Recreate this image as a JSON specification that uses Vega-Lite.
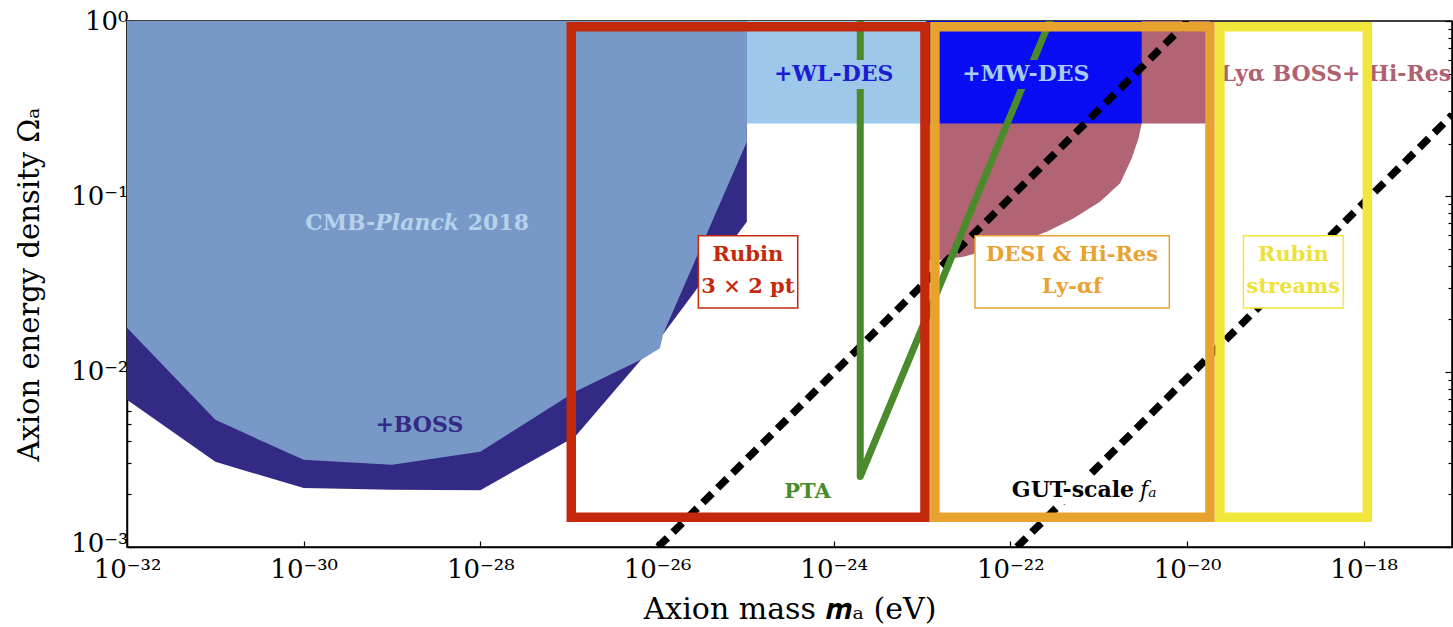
{
  "$schema": "https://vega.github.io/schema/vega-lite/v6.json",
  "width": 1325,
  "height": 526,
  "autosize": {"type": "none"},
  "padding": {"left": 127, "top": 21, "right": 1, "bottom": 80},
  "background": "white",
  "datasets": {
    "boss": [
      {"m": 1e-32, "o": 0.00692},
      {"m": 1e-31, "o": 0.00306},
      {"m": 1e-30, "o": 0.00217},
      {"m": 1e-29, "o": 0.00212},
      {"m": 1e-28, "o": 0.00211},
      {"m": 1.18e-27, "o": 0.00426},
      {"m": 1.2e-26, "o": 0.0166},
      {"m": 1.04e-25, "o": 0.0716}
    ],
    "cmb": [
      {"m": 1e-32, "o": 0.0178},
      {"m": 1e-31, "o": 0.00531},
      {"m": 1e-30, "o": 0.00314},
      {"m": 1e-29, "o": 0.00295},
      {"m": 1e-28, "o": 0.00349},
      {"m": 1.18e-27, "o": 0.00767},
      {"m": 7.0e-27, "o": 0.0119},
      {"m": 1.08e-26, "o": 0.0136},
      {"m": 1.18e-26, "o": 0.0165},
      {"m": 1.04e-25, "o": 0.205}
    ],
    "lya": [
      {"m": 1.12e-23, "o": 0.0433},
      {"m": 1.6e-23, "o": 0.0434},
      {"m": 2.95e-23, "o": 0.0452},
      {"m": 6.46e-23, "o": 0.0505},
      {"m": 1.29e-22, "o": 0.0551},
      {"m": 2.58e-22, "o": 0.0628},
      {"m": 5.16e-22, "o": 0.0748},
      {"m": 1.035e-21, "o": 0.0931},
      {"m": 1.75e-21, "o": 0.1186},
      {"m": 2.37e-21, "o": 0.165},
      {"m": 2.82e-21, "o": 0.214},
      {"m": 3.07e-21, "o": 0.26},
      {"m": 1.82e-20, "o": 0.26}
    ],
    "regions": [
      {"name": "WL-DES", "m": 1.04e-25, "m2": 1.12e-23, "o": 0.26, "o2": 1},
      {"name": "MW-DES", "m": 1.12e-23, "m2": 3.07e-21, "o": 0.26, "o2": 1},
      {"name": "WL-DES", "m": 1.9e-25, "m2": 5.2e-24, "o": 0.41, "o2": 0.6},
      {"name": "MW-DES", "m": 2.9e-23, "m2": 7.8e-22, "o": 0.41, "o2": 0.6},
      {"name": "GUT", "m": 9.4e-23, "m2": 5.6e-21, "o": 0.00175, "o2": 0.00255}
    ],
    "boxes": [
      {"name": "Rubin 3x2", "m": 1.07e-27, "m2": 1.08e-23, "o": 0.00148, "o2": 0.927},
      {"name": "DESI", "m": 1.4e-23, "m2": 1.82e-20, "o": 0.00148, "o2": 0.927},
      {"name": "streams", "m": 2.36e-20, "m2": 1.1e-18, "o": 0.00148, "o2": 0.927}
    ],
    "labelboxes": [
      {"name": "Rubin 3x2", "m": 2.94e-26, "m2": 3.92e-25, "o": 0.0231, "o2": 0.0596},
      {"name": "DESI", "m": 3.98e-23, "m2": 6.31e-21, "o": 0.0231, "o2": 0.0596},
      {"name": "streams", "m": 4.35e-20, "m2": 5.89e-19, "o": 0.0231, "o2": 0.0596}
    ],
    "gut": [
      {"id": "gut1", "i": 0, "m": 1.03e-26, "o": 0.001},
      {"id": "gut1", "i": 1, "m": 1.035e-20, "o": 1},
      {"id": "gut2", "i": 0, "m": 1.19e-22, "o": 0.001},
      {"id": "gut2", "i": 1, "m": 1e-17, "o": 0.29}
    ],
    "pta": [
      {"i": 0, "m": 2e-24, "o": 1},
      {"i": 1, "m": 2e-24, "o": 0.00252},
      {"i": 2, "m": 2.8e-22, "o": 1}
    ],
    "texts": [
      {"t": "+BOSS", "m": 2.04e-29, "o": 0.00497},
      {"t": "CMB-", "m": 6.46e-30, "o": 0.0706},
      {"t": "Planck", "m": 6.46e-30, "o": 0.0706},
      {"t": "2018", "m": 7.2e-29, "o": 0.0706},
      {"t": "+WL-DES", "m": 1.0e-24, "o": 0.5},
      {"t": "+MW-DES", "m": 1.5e-22, "o": 0.5},
      {"t": "Lyα BOSS+ Hi-Res", "m": 4.84e-19, "o": 0.5},
      {"t": "PTA", "m": 5.06e-25, "o": 0.00205},
      {"t": "GUT-scale", "m": 1.04e-22, "o": 0.00212},
      {"t": "fₐ", "m": 2.94e-21, "o": 0.00212},
      {"t": "Rubin\n3 × 2 pt", "m": 1.07e-25, "o": 0.0464},
      {"t": "DESI & Hi-Res\nLy-αf", "m": 5.0e-22, "o": 0.0464},
      {"t": "Rubin\nstreams", "m": 1.6e-19, "o": 0.0464}
    ]
  },
  "encoding": {
    "x": {"field": "m", "type": "quantitative", "scale": {"type": "log", "domain": [1e-32, 1e-17], "nice": false},
      "axis": {"values": [1e-32, 1e-30, 1e-28, 1e-26, 1e-24, 1e-22, 1e-20, 1e-18], "tickSize": -6, "labelPadding": 15,
        "title": "Axion mass 𝒎ₐ (eV)", "titleFontSize": 30, "titlePadding": 12,
        "labelExpr": "['10⁻³²','10⁻³¹','10⁻³⁰','10⁻²⁹','10⁻²⁸','10⁻²⁷','10⁻²⁶','10⁻²⁵','10⁻²⁴','10⁻²³','10⁻²²','10⁻²¹','10⁻²⁰','10⁻¹⁹','10⁻¹⁸','10⁻¹⁷'][round(log(datum.value)/LN10)+32]"}},
    "y": {"field": "o", "type": "quantitative", "scale": {"type": "log", "domain": [0.001, 1], "nice": false}, "axis": null}
  },
  "layer": [
    {
      "data": {"name": "boss"},
      "mark": {"type": "area", "color": "#332a85"},
      "encoding": {
        "y": {"field": "o", "type": "quantitative", "scale": {"type": "log", "domain": [0.001, 1], "nice": false},
          "axis": {"values": [0.001,0.002,0.003,0.004,0.005,0.006,0.007,0.008,0.009,0.01,0.02,0.03,0.04,0.05,0.06,0.07,0.08,0.09,0.1,0.2,0.3,0.4,0.5,0.6,0.7,0.8,0.9,1],
            "tickSize": {"condition": {"test": "abs(log(datum.value)/LN10 - round(log(datum.value)/LN10)) < 0.001", "value": -7}, "value": -4},
            "labelOffset": {"condition": {"test": "datum.value < 0.0015", "value": -4}, "value": 0},
            "labelPadding": 6, "title": "Axion energy density Ωₐ", "titleFontSize": 29, "titlePadding": 26,
            "labelExpr": "abs(log(datum.value)/LN10 - round(log(datum.value)/LN10)) < 0.001 ? ['10⁻³','10⁻²','10⁻¹','10⁰'][round(log(datum.value)/LN10)+3] : ''"}},
        "y2": {"datum": 1}
      }
    },
    {
      "data": {"name": "cmb"},
      "mark": {"type": "area", "color": "#7899c7"},
      "encoding": {
        "y": {"field": "o", "type": "quantitative", "scale": {"type": "log", "domain": [0.001, 1], "nice": false},
          "axis": {"orient": "right", "values": [0.001,0.002,0.003,0.004,0.005,0.006,0.007,0.008,0.009,0.01,0.02,0.03,0.04,0.05,0.06,0.07,0.08,0.09,0.1,0.2,0.3,0.4,0.5,0.6,0.7,0.8,0.9,1],
            "tickSize": {"condition": {"test": "abs(log(datum.value)/LN10 - round(log(datum.value)/LN10)) < 0.001", "value": -7}, "value": -4},
            "labels": false, "title": null}},
        "y2": {"datum": 1}
      }
    },
    {
      "data": {"name": "lya"},
      "mark": {"type": "area", "color": "#b06474"},
      "encoding": {"y2": {"datum": 1}}
    },
    {
      "data": {"name": "regions"},
      "transform": [{"filter": "datum.o > 0.2"}],
      "mark": {"type": "rect"},
      "encoding": {
        "x2": {"field": "m2"},
        "y2": {"field": "o2"},
        "color": {"field": "name", "type": "nominal", "scale": {"domain": ["WL-DES", "MW-DES", "GUT"], "range": ["#9ec8ea", "#0a0cf5", "#ffffff"]}, "legend": null}
      }
    },
    {
      "data": {"name": "texts"},
      "transform": [{"filter": {"field": "t", "oneOf": ["CMB-"]}}],
      "mark": {"type": "text", "align": "right", "baseline": "middle", "font": "DejaVu Serif", "fontWeight": "bold", "fontSize": 22, "color": "#b4d2eb"},
      "encoding": {"text": {"field": "t"}}
    },
    {
      "data": {"name": "texts"},
      "transform": [{"filter": {"field": "t", "oneOf": ["Planck"]}}],
      "mark": {"type": "text", "align": "left", "baseline": "middle", "font": "DejaVu Serif", "fontWeight": "bold", "fontStyle": "italic", "fontSize": 22, "color": "#b4d2eb"},
      "encoding": {"text": {"field": "t"}}
    },
    {
      "data": {"name": "texts"},
      "transform": [{"filter": {"field": "t", "oneOf": ["2018"]}}],
      "mark": {"type": "text", "align": "left", "baseline": "middle", "font": "DejaVu Serif", "fontWeight": "bold", "fontSize": 22, "color": "#b4d2eb"},
      "encoding": {"text": {"field": "t"}}
    },
    {
      "data": {"name": "texts"},
      "transform": [{"filter": {"field": "t", "oneOf": ["+BOSS"]}}],
      "mark": {"type": "text", "align": "center", "baseline": "middle", "font": "DejaVu Serif", "fontWeight": "bold", "fontSize": 22, "color": "#332a85"},
      "encoding": {"text": {"field": "t"}}
    },
    {
      "data": {"name": "gut"},
      "mark": {"type": "line", "color": "#000000", "strokeWidth": 7.5, "strokeDash": [13, 8], "strokeCap": "butt", "clip": true},
      "encoding": {"detail": {"field": "id"}, "order": {"field": "i"}}
    },
    {
      "data": {"name": "pta"},
      "mark": {"type": "line", "color": "#4a8b2c", "strokeWidth": 7, "strokeJoin": "round", "strokeCap": "round", "clip": true},
      "encoding": {"order": {"field": "i"}}
    },
    {
      "data": {"name": "regions"},
      "transform": [{"filter": "datum.o2 < 0.9"}],
      "mark": {"type": "rect"},
      "encoding": {
        "x2": {"field": "m2"},
        "y2": {"field": "o2"},
        "color": {"field": "name", "type": "nominal", "scale": {"domain": ["WL-DES", "MW-DES", "GUT"], "range": ["#9ec8ea", "#0a0cf5", "#ffffff"]}, "legend": null}
      }
    },
    {
      "data": {"name": "texts"},
      "transform": [{"filter": {"field": "t", "oneOf": ["+WL-DES", "+MW-DES", "Lyα BOSS+ Hi-Res"]}}],
      "mark": {"type": "text", "align": "center", "baseline": "middle", "font": "DejaVu Serif", "fontWeight": "bold", "fontSize": 22},
      "encoding": {
        "text": {"field": "t"},
        "color": {"field": "t", "type": "nominal", "scale": {"domain": ["+WL-DES", "+MW-DES", "Lyα BOSS+ Hi-Res"], "range": ["#1c1cd4", "#a6cdf0", "#b0606f"]}, "legend": null}
      }
    },
    {
      "data": {"name": "boxes"},
      "mark": {"type": "rect", "fillOpacity": 0, "strokeWidth": 9.5, "strokeJoin": "miter"},
      "encoding": {
        "x2": {"field": "m2"},
        "y2": {"field": "o2"},
        "stroke": {"field": "name", "type": "nominal", "scale": {"domain": ["Rubin 3x2", "DESI", "streams"], "range": ["#c4290c", "#e8a22e", "#f1e73c"]}, "legend": null}
      }
    },
    {
      "data": {"name": "labelboxes"},
      "mark": {"type": "rect", "fill": "#ffffff", "strokeWidth": 1.5},
      "encoding": {
        "x2": {"field": "m2"},
        "y2": {"field": "o2"},
        "stroke": {"field": "name", "type": "nominal", "scale": {"domain": ["Rubin 3x2", "DESI", "streams"], "range": ["#c4290c", "#e8a22e", "#f1e73c"]}, "legend": null}
      }
    },
    {
      "data": {"name": "texts"},
      "transform": [{"filter": {"field": "t", "oneOf": ["PTA", "Rubin\n3 × 2 pt", "DESI & Hi-Res\nLy-αf", "Rubin\nstreams"]}}],
      "mark": {"type": "text", "align": "center", "baseline": "middle", "font": "DejaVu Serif", "fontWeight": "bold", "fontSize": 21, "lineBreak": "\n", "lineHeight": 32},
      "encoding": {
        "text": {"field": "t"},
        "color": {"field": "t", "type": "nominal", "scale": {"domain": ["PTA", "Rubin\n3 × 2 pt", "DESI & Hi-Res\nLy-αf", "Rubin\nstreams"], "range": ["#4a8b2c", "#c4290c", "#e8a22e", "#eee13a"]}, "legend": null}
      }
    },
    {
      "data": {"name": "texts"},
      "transform": [{"filter": {"field": "t", "oneOf": ["GUT-scale"]}}],
      "mark": {"type": "text", "align": "left", "baseline": "middle", "font": "DejaVu Serif", "fontWeight": "bold", "fontSize": 22, "color": "#000000"},
      "encoding": {"text": {"field": "t"}}
    },
    {
      "data": {"name": "texts"},
      "transform": [{"filter": {"field": "t", "oneOf": ["fₐ"]}}],
      "mark": {"type": "text", "align": "left", "baseline": "middle", "font": "DejaVu Serif", "fontStyle": "italic", "fontSize": 22, "color": "#000000"},
      "encoding": {"text": {"field": "t"}}
    }
  ],
  "resolve": {"axis": {"y": "independent"}, "scale": {"color": "independent", "stroke": "independent"}},
  "config": {
    "view": {"stroke": "#000000", "strokeWidth": 1.5},
    "axis": {"grid": false, "domainColor": "#000000", "domainWidth": 1.5, "tickColor": "#000000", "tickWidth": 1.2,
      "labelColor": "#000000", "labelFont": "DejaVu Serif", "labelFontSize": 26, "labelFlush": false, "labelOverlap": false,
      "titleColor": "#000000", "titleFont": "DejaVu Serif", "titleFontSize": 28, "titleFontWeight": "normal"}
  }
}
